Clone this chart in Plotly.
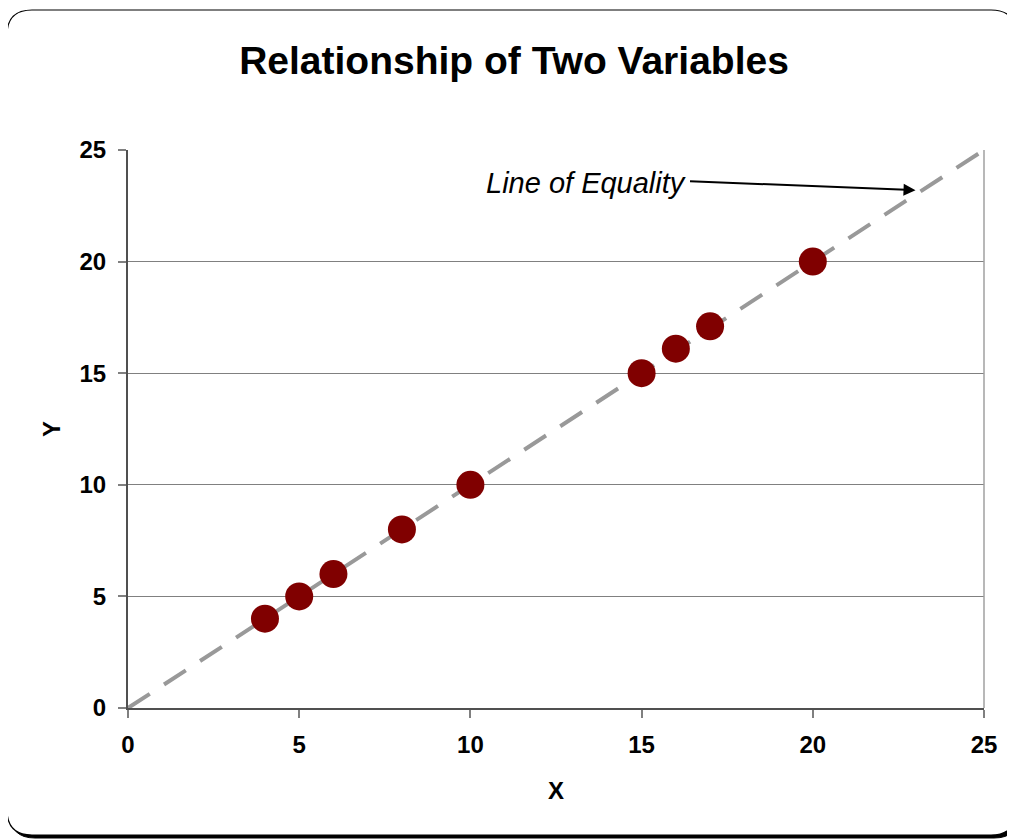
import plotly.graph_objects as go

# data
x_vals = [4, 5, 6, 8, 10, 15, 16, 17, 20]
y_vals = [4, 5, 6, 8, 10, 15, 16.1, 17.1, 20]
equality_x = [0, 25]
equality_y = [0, 25]
tick_vals = [0, 5, 10, 15, 20, 25]

# the page puts the figure 8px in from the top-left corner of the window
OFF = 8
W, H = 1015 - OFF, 840 - OFF
L, T = 128 - OFF, 150 - OFF
R, B = W - (984 - OFF), H - (708 - OFF)
pw, ph = W - L - R, H - T - B


def px(x):
    # screen pixel -> paper
    return (x - OFF - L) / pw


def py(y):
    return (H - B - (y - OFF)) / ph


def rounded_box(x0, y0, x1, y1, r):
    pts = [
        f"M {px(x0 + r)},{py(y0)}",
        f"L {px(x1 - r)},{py(y0)}",
        f"Q {px(x1)},{py(y0)} {px(x1)},{py(y0 + r)}",
        f"L {px(x1)},{py(y1 - r)}",
        f"Q {px(x1)},{py(y1)} {px(x1 - r)},{py(y1)}",
        f"L {px(x0 + r)},{py(y1)}",
        f"Q {px(x0)},{py(y1)} {px(x0)},{py(y1 - r)}",
        f"L {px(x0)},{py(y0 + r)}",
        f"Q {px(x0)},{py(y0)} {px(x0 + r)},{py(y0)}",
        "Z",
    ]
    return " ".join(pts)


font = "Arial, Liberation Sans, sans-serif"

fig = go.Figure()
fig.add_trace(go.Scatter(x=equality_x, y=equality_y, mode="lines",
                         line=dict(color="#999999", width=4, dash="26px,17px"),
                         hoverinfo="skip"))
fig.add_trace(go.Scatter(x=x_vals, y=y_vals, mode="markers",
                         marker=dict(color="#800000", size=28, line=dict(width=0))))

# outer frame with shadow
fig.add_shape(type="path", xref="paper", yref="paper", layer="below",
              path=rounded_box(10, 13, 1019, 838, 25),
              fillcolor="black", line=dict(color="black", width=1))
fig.add_shape(type="path", xref="paper", yref="paper", layer="below",
              path=rounded_box(7, 10, 1016, 835, 25),
              fillcolor="white", line=dict(color="black", width=1.2))
# right border of the plot area
fig.add_shape(type="line", xref="paper", yref="paper", x0=1, x1=1, y0=0, y1=1,
              line=dict(color="#a0a0a0", width=1.5))

fig.add_annotation(x=23, y=23.2, ax=-227, ay=-9, text="", showarrow=True,
                   arrowhead=2, arrowsize=1.2, arrowwidth=2, arrowcolor="black")
fig.add_annotation(x=16.35, y=23.52, text="Line of Equality", showarrow=False,
                   xanchor="right", yanchor="middle",
                   font=dict(family=font, size=29, color="black", style="italic"))

axis_common = dict(range=[0, 25], tickvals=tick_vals, ticks="outside", ticklen=8,
                   tickcolor="#808080", tickwidth=1.5, showline=True,
                   linecolor="#505050", linewidth=2, zeroline=False,
                   tickfont=dict(family=font, size=24, color="black", weight="bold"))

fig.update_xaxes(**axis_common, showgrid=False, ticklabelstandoff=6,
                 title=dict(text="X", font=dict(family=font, size=24, color="black", weight="bold"),
                            standoff=25))
fig.update_yaxes(**axis_common, showgrid=True, gridcolor="#808080", gridwidth=1,
                 ticklabelstandoff=7,
                 title=dict(text="Y", font=dict(family=font, size=24, color="black", weight="bold"),
                            standoff=12))

fig.update_layout(
    width=W, height=H,
    margin=dict(l=L, r=R, t=T, b=B),
    paper_bgcolor="white", plot_bgcolor="white",
    showlegend=False,
    title=dict(text="Relationship of Two Variables", x=(514 - OFF) / W, xanchor="center",
               y=1 - (60 - OFF) / H, yanchor="middle",
               font=dict(family=font, size=39, color="black", weight="bold")),
)

fig.write_html("out.html")
